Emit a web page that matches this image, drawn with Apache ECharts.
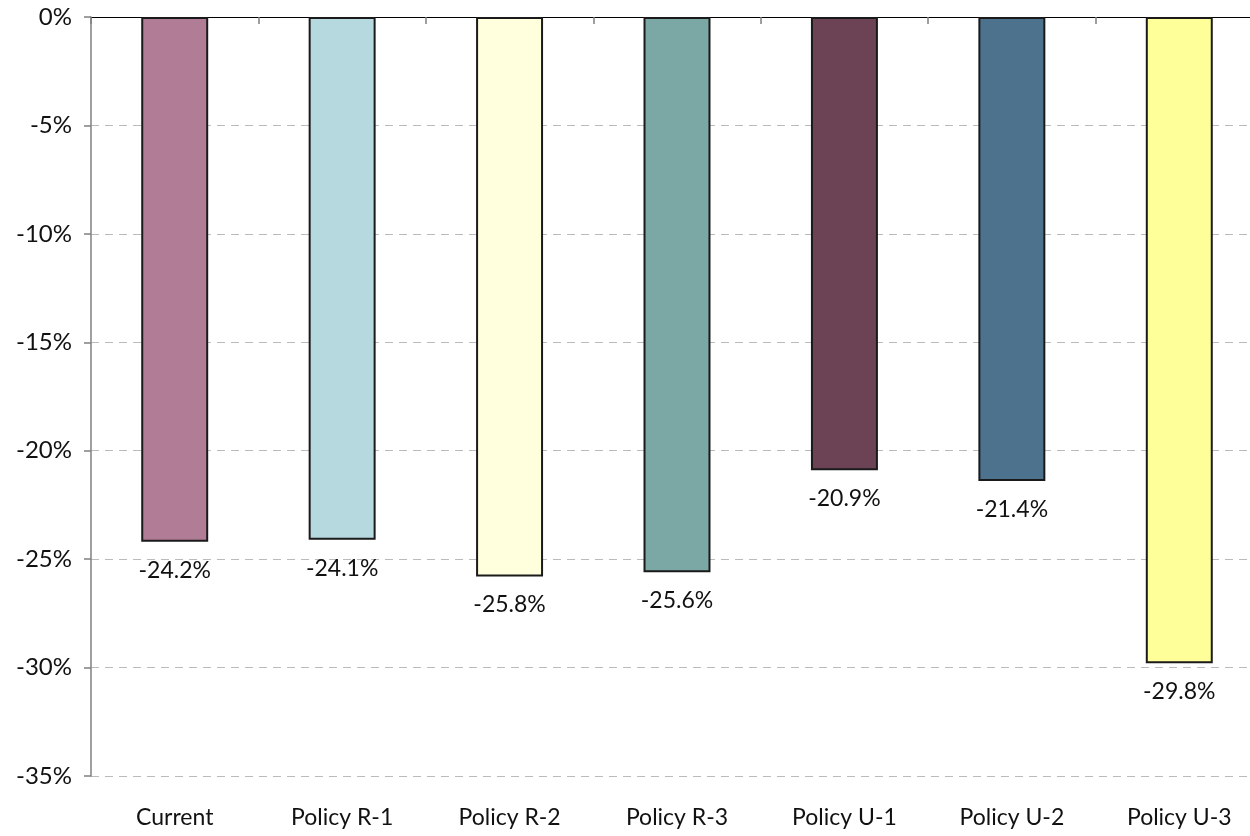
<!DOCTYPE html>
<html>
<head>
<meta charset="utf-8">
<script src="https://cdn.jsdelivr.net/npm/echarts@6/dist/echarts.min.js"></script>
<style>
html,body{margin:0;padding:0;background:#fff;}
#chart{width:1250px;height:836px;}
</style>
</head>
<body>
<div id="chart"></div>
<script>
// Change by policy scenario, in percent
const categories = ['Current', 'Policy R-1', 'Policy R-2', 'Policy R-3', 'Policy U-1', 'Policy U-2', 'Policy U-3'];
const values = [-24.2, -24.1, -25.8, -25.6, -20.9, -21.4, -29.8];
const barColors = ['#B07C96', '#B6D9DF', '#FFFFDD', '#7BA7A5', '#6B4355', '#4C728D', '#FFFF99'];
const yTicks = [0, -5, -10, -15, -20, -25, -30, -35];

const FONT = 'Lato, "Open Sans", sans-serif';

const chart = echarts.init(document.getElementById('chart'));
chart.setOption({
  animation: false,
  grid: { left: 91, top: 17, width: 1172, height: 759, outerBoundsMode: 'none', containLabel: false },
  xAxis: [
    {
      // category labels along the bottom
      type: 'category',
      data: categories,
      position: 'bottom',
      axisLine: { show: false, onZero: false },
      axisTick: { show: false },
      axisLabel: { color: '#111', fontSize: 23, fontFamily: FONT, margin: 30 }
    },
    {
      // zero line across the top with short downward ticks
      type: 'category',
      data: categories,
      position: 'top',
      axisLine: { show: true, onZero: false, lineStyle: { color: '#000', width: 1.2 } },
      axisTick: { show: true, inside: true, length: 7, lineStyle: { color: '#808080', width: 1.5 } },
      axisLabel: { show: false }
    }
  ],
  yAxis: {
    type: 'value',
    min: yTicks[yTicks.length - 1],
    max: yTicks[0],
    interval: 5,
    axisLine: { show: true, lineStyle: { color: '#808080', width: 1.5 } },
    axisTick: { show: true, length: 7, lineStyle: { color: '#808080', width: 1.5 } },
    axisLabel: {
      color: '#111', fontSize: 24, fontFamily: FONT, margin: 19,
      formatter: v => v + '%'
    },
    splitLine: { show: true, lineStyle: { color: '#BBBBBB', type: [8, 6], width: 1 } }
  },
  series: [{
    type: 'bar',
    xAxisIndex: 0,
    data: values.map((v, i) => ({
      value: v,
      itemStyle: { color: barColors[i], borderColor: '#1a1a1a', borderWidth: 2 }
    })),
    barWidth: '40%',
    label: {
      show: true,
      position: 'bottom',
      distance: 17,
      color: '#111',
      fontSize: 23,
      fontFamily: FONT,
      formatter: p => p.value.toFixed(1) + '%'
    }
  }]
});
</script>
</body>
</html>
